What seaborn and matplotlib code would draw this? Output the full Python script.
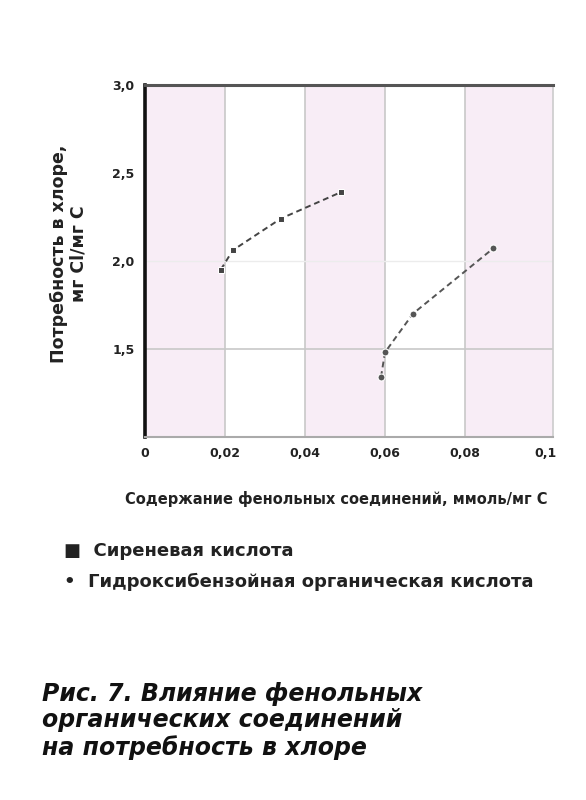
import seaborn as sns
import numpy as np
import pandas as pd
import matplotlib.pyplot as plt

# Values
acid_x = [0.019, 0.022, 0.034, 0.049]
acid_y = [1.95, 2.06, 2.24, 2.39]
hydro_x = [0.059, 0.060, 0.067, 0.087]
hydro_y = [1.34, 1.48, 1.70, 2.07]
series_names = ['Сиреневая кислота', 'Гидроксибензойная органическая кислота']

x_ticks = [0, 0.02, 0.04, 0.06, 0.08, 0.1]
x_labels = ['0', '0,02', '0,04', '0,06', '0,08', '0,1']
y_ticks = [1.5, 2.0, 2.5, 3.0]
y_labels = ['1,5', '2,0', '2,5', '3,0']

df = pd.concat([
    pd.DataFrame({'x': acid_x, 'y': acid_y, 'series': series_names[0]}),
    pd.DataFrame({'x': hydro_x, 'y': hydro_y, 'series': series_names[1]}),
])

sns.set_style('white')
plt.rcParams['font.family'] = ['DejaVu Sans']

fig = plt.figure(figsize=(5.86, 8), dpi=100)
ax = fig.add_axes([0.247, 0.454, 0.697, 0.440])

x_max = 0.102
# faint pink column banding
edges = x_ticks + [x_max]
for i in range(0, len(x_ticks), 2):
    right = edges[i + 1] if i + 2 < len(edges) - 1 else x_max
    ax.axvspan(edges[i], right, color='#f8edf6', zorder=0, lw=0)

for v in x_ticks[1:-1]:
    ax.axvline(v, color='#c8c8c8', lw=1.2, zorder=1)
ax.axhline(1.5, color='#c8c8c8', lw=1.2, zorder=1)
ax.axhline(2.0, color='#ececec', lw=1.0, zorder=1)

sns.lineplot(data=df, x='x', y='y', hue='series', style='series',
             markers=['s', 'o'], dashes=[(3, 2), (3, 2)],
             palette=['#444444', '#555555'], markersize=5, lw=1.4,
             ax=ax, legend=False, zorder=3)

ax.set_xlim(0, x_max)
ax.set_ylim(1.0, 3.0)
ax.set_xticks(x_ticks)
ax.set_xticklabels(x_labels, fontsize=9, fontweight='bold', color='#222222')
ax.set_yticks(y_ticks)
ax.set_yticklabels(y_labels, fontsize=9, fontweight='bold', color='#222222')
ax.tick_params(axis='both', direction='out', length=4, width=1.5, color='#333333')

for side, col, w in [('left', '#111111', 2.6), ('top', '#555555', 2.2),
                     ('bottom', '#aaaaaa', 1.5), ('right', '#cccccc', 1.2)]:
    ax.spines[side].set_color(col)
    ax.spines[side].set_linewidth(w)

ax.set_xlabel('Содержание фенольных соединений, ммоль/мг С', fontsize=10.5,
              fontweight='bold', color='#222222')
ax.xaxis.set_label_coords(0.47, -0.155)
ax.set_ylabel('Потребность в хлоре,\nмг Cl/мг С', fontsize=12.5,
              fontweight='bold', color='#222222', linespacing=1.1)
ax.yaxis.set_label_coords(-0.14, 0.52)

# legend below the plot
fig.text(0.11, 0.305, '■  ' + series_names[0], fontsize=13,
         fontweight='bold', color='#222222')
fig.text(0.11, 0.266, '•  ' + series_names[1], fontsize=13,
         fontweight='bold', color='#222222')

fig.text(0.072, 0.056, 'Рис. 7. Влияние фенольных\nорганических соединений\nна потребность в хлоре',
         fontsize=17, fontweight='bold', fontstyle='italic', color='#111111',
         linespacing=1.15)

fig.savefig('out.png', dpi=100)
